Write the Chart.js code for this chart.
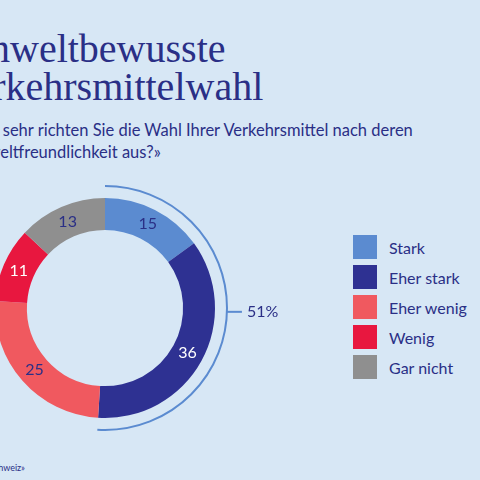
<!DOCTYPE html>
<html>
<head>
<meta charset="utf-8">
<script src="https://cdn.jsdelivr.net/npm/chart.js@4"></script>
<style>
  body { margin: 0; width: 480px; height: 480px; background: #d7e7f5; overflow: hidden; position: relative; font-family: Lato, sans-serif; color: #2a2f86; }
  #title { position: absolute; left: -50px; top: 30px; font-family: "Liberation Serif", serif; font-size: 40px; line-height: 38px; white-space: nowrap; }
  #sub { position: absolute; left: -38px; top: 119px; font-size: 16.5px; line-height: 22px; white-space: nowrap; }
  #foot { position: absolute; right: 455px; top: 462px; font-size: 9px; white-space: nowrap; }
  #wrap { position: absolute; left: -35px; top: 168px; width: 380px; height: 280px; }
  #legend { position: absolute; left: 353px; top: 235px; font-size: 16px; }
  .item { height: 24px; margin-bottom: 6px; display: flex; align-items: center; }
  .sw { width: 24px; height: 24px; margin-right: 12px; }
</style>
</head>
<body>
<div id="title">Umweltbewusste<br>Verkehrsmittelwahl</div>
<div id="sub">«Wie sehr richten Sie die Wahl Ihrer Verkehrsmittel nach deren<br>Umweltfreundlichkeit aus?»</div>
<div id="foot">Quelle: «Mobilität Schweiz»</div>
<div id="wrap"><canvas id="chart"></canvas></div>
<div id="legend"></div>
<script>
const categories = ['Stark', 'Eher stark', 'Eher wenig', 'Wenig', 'Gar nicht'];
const values = [15, 36, 25, 11, 13];
const colors = ['#5b8bd0', '#2e3192', '#f0595f', '#e8173f', '#8f8f8f'];
const labelColors = ['#2a2f86', '#ffffff', '#2a2f86', '#ffffff', '#2a2f86'];
const bracketCount = 2; // Stark + Eher stark

const legend = document.getElementById('legend');
categories.forEach((c, i) => {
    legend.innerHTML += `<div class="item"><div class="sw" style="background:${colors[i]}"></div>${c}</div>`;
});

const extras = {
    id: 'extras',
    afterDatasetsDraw(chart) {
        const ctx = chart.ctx;
        const arcs = chart.getDatasetMeta(0).data;
        ctx.save();
        ctx.font = '16px Lato, sans-serif';
        ctx.textAlign = 'center';
        ctx.textBaseline = 'middle';
        arcs.forEach((a, i) => {
            const p = a.getCenterPoint();
            ctx.fillStyle = labelColors[i];
            ctx.fillText(values[i], p.x, p.y);
        });
        const first = arcs[0], last = arcs[bracketCount - 1];
        const r = first.outerRadius + 12;
        ctx.strokeStyle = '#5b8bd0';
        ctx.lineWidth = 2;
        ctx.beginPath();
        ctx.arc(first.x, first.y, r, first.startAngle, last.endAngle);
        ctx.stroke();
        const mid = (first.startAngle + last.endAngle) / 2;
        const sx = first.x + r * Math.cos(mid), sy = first.y + r * Math.sin(mid);
        ctx.beginPath();
        ctx.moveTo(sx, sy);
        ctx.lineTo(sx + 15, sy);
        ctx.stroke();
        const total = values.reduce((s, v) => s + v, 0);
        const pct = Math.round(values.slice(0, bracketCount).reduce((s, v) => s + v, 0) / total * 100);
        ctx.fillStyle = '#2a2f86';
        ctx.textAlign = 'left';
        ctx.fillText(pct + '%', sx + 20, sy);
        ctx.restore();
    }
};

new Chart(document.getElementById('chart'), {
    type: 'doughnut',
    data: {
        labels: categories,
        datasets: [{ data: values, backgroundColor: colors, borderWidth: 0 }]
    },
    options: {
        responsive: true,
        maintainAspectRatio: false,
        animation: false,
        cutout: '71%',
        layout: { padding: { left: 30, right: 130, top: 30, bottom: 30 } },
        plugins: { legend: { display: false }, tooltip: { enabled: false } }
    },
    plugins: [extras]
});
</script>
</body>
</html>
